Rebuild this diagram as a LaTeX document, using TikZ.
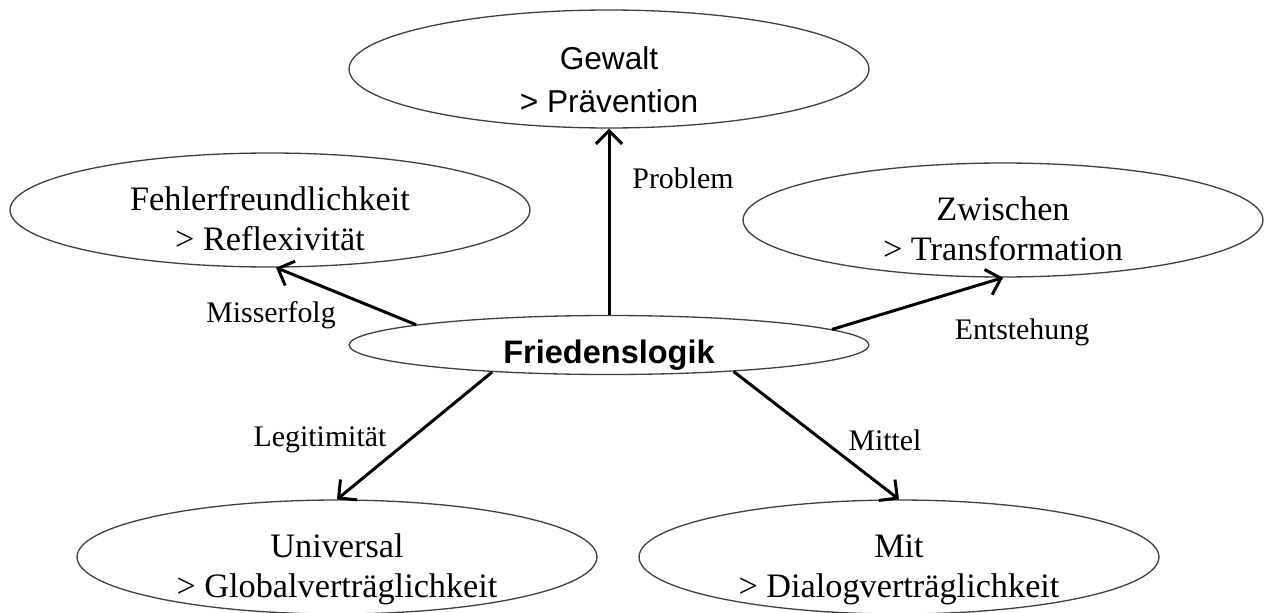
\documentclass[tikz,border=0pt]{standalone}
\usepackage{fontspec}
\setmainfont{Liberation Serif}
\newfontfamily\arialfont{Liberation Sans}
\usetikzlibrary{shapes.geometric,arrows.meta}

\tikzset{
  bubble/.style={draw=black!75, line width=0.75pt, ellipse, minimum width=10.4cm, minimum height=2.28cm, inner sep=0pt},
  serifline/.style={font=\fontsize{19.5}{22.8}\selectfont, align=center, inner sep=0pt},
  sansline/.style={font=\arialfont\fontsize{18}{24.5}\selectfont, align=center, inner sep=0pt},
  edgelabel/.style={font=\fontsize{17}{20}\selectfont, inner sep=0pt},
  link/.style={line width=1.7pt, -{Straight Barb[length=7.5pt,width=15pt,line width=1.7pt]}}
}
\newcommand{\twoline}[2]{\rule{0pt}{1.3\baselineskip}#1\\#2\rule[-.3\baselineskip]{0pt}{.3\baselineskip}}

\begin{document}
\begin{tikzpicture}[x=0.02cm, y=-0.02cm]
\useasboundingbox (0,0) rectangle (1270,612);

\node[bubble, minimum height=2.36cm, label={[sansline]center:\twoline{Gewalt}{> Prävention}}] (gew) at (609,69) {};
\node[bubble, label={[serifline]center:\twoline{Fehlerfreundlichkeit}{> Reflexivität}}] (feh) at (270,210) {};
\node[bubble, label={[serifline]center:\twoline{Zwischen}{> Transformation}}] (zw) at (1003,220) {};
\node[bubble, minimum height=1.18cm, label={[font=\arialfont\bfseries\fontsize{18.5}{22}\selectfont, inner sep=0pt]center:\rule{0pt}{1.28\baselineskip}Friedenslogik\rule[-.3\baselineskip]{0pt}{.3\baselineskip}}] (fl) at (609,345) {};
\node[bubble, label={[serifline]center:\twoline{Universal}{> Globalverträglichkeit}}] (uni) at (337,557) {};
\node[bubble, label={[serifline]center:\twoline{Mit}{> Dialogverträglichkeit}}] (mit) at (899,557) {};

\draw[link] (fl.north) -- (gew.south);
\draw[link] (fl.174) -- (feh.-84);
\draw[link] (fl.4) -- (zw.south);
\draw[link] (fl.193) -- (uni.north);
\draw[link] (fl.348) -- (mit.north);

\node[edgelabel] (prob) at (683,178) {Problem};
\node[edgelabel] (miss) at (271,315) {Misserfolg};
\node[edgelabel] (ents) at (1022,332) {Entstehung};
\node[edgelabel] (legi) at (320,440) {Legitimität};
\node[edgelabel] (mitt) at (885,440) {Mittel};
\end{tikzpicture}
\end{document}
